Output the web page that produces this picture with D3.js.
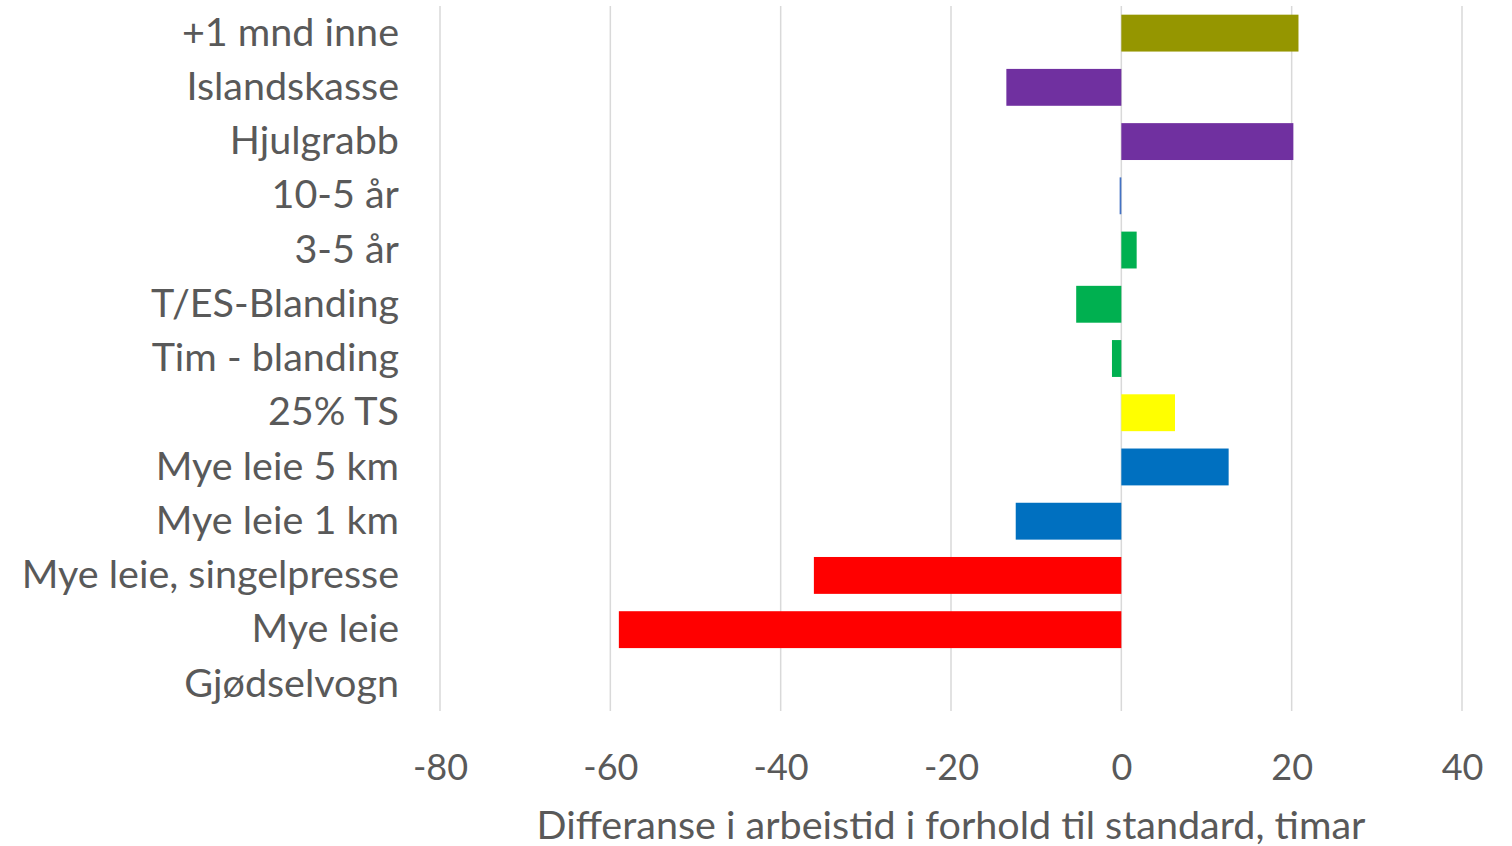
<!DOCTYPE html>
<html>
<head>
<meta charset="utf-8">
<script src="https://cdn.jsdelivr.net/npm/d3@7"></script>
<style>
body { margin: 0; background: #fff; }
svg text { font-family: Lato, "Open Sans", sans-serif; fill: #595959; }
</style>
</head>
<body>
<svg width="1512" height="846"></svg>
<script>
// categories top -> bottom
var categories = ["+1 mnd inne", "Islandskasse", "Hjulgrabb", "10-5 år", "3-5 år", "T/ES-Blanding",
  "Tim - blanding", "25% TS", "Mye leie 5 km", "Mye leie 1 km", "Mye leie, singelpresse", "Mye leie", "Gjødselvogn"];
var values = [20.8, -13.5, 20.2, -0.2, 1.8, -5.3, -1.1, 6.3, 12.6, -12.4, -36.1, -59.0, 0];
var colors = ["#959600", "#7030A0", "#7030A0", "#4472C4", "#00B050", "#00B050",
  "#00B050", "#FFFF00", "#0070C0", "#0070C0", "#FF0000", "#FF0000", "#FF0000"];
var ticks = [-80, -60, -40, -20, 0, 20, 40];
var axisTitle = "Differanse i arbeistid i forhold til standard, timar";

var margin = {top: 6, right: 50, bottom: 135, left: 440};
var width = 1512, height = 846;

var svg = d3.select("svg");

var x = d3.scaleLinear()
  .domain([-80, 40])
  .range([margin.left, 1462]);

var y = d3.scaleBand()
  .domain(categories)
  .range([margin.top, height - margin.bottom])
  .paddingInner(0.32)
  .paddingOuter(0.16);

// gridlines
svg.append("g")
  .selectAll("line")
  .data(ticks)
  .join("line")
  .attr("x1", d => x(d)).attr("x2", d => x(d))
  .attr("y1", margin.top).attr("y2", height - margin.bottom)
  .attr("stroke", "#d9d9d9")
  .attr("stroke-width", 1.5);

// bars
svg.append("g")
  .selectAll("rect")
  .data(values)
  .join("rect")
  .attr("x", d => x(Math.min(0, d)))
  .attr("width", d => Math.abs(x(d) - x(0)))
  .attr("y", (d, i) => y(categories[i]))
  .attr("height", y.bandwidth())
  .attr("fill", (d, i) => colors[i]);

// x axis labels
var xAxis = svg.append("g")
  .attr("transform", "translate(0," + (height - margin.bottom) + ")")
  .call(d3.axisBottom(x).tickValues(ticks).tickSize(0).tickPadding(43).tickFormat(d => String(d)));
xAxis.select(".domain").remove();
xAxis.selectAll("text").style("font-size", "36px").attr("fill", "#595959")
  .style("font-family", "Lato, 'Open Sans', sans-serif");

// y axis labels
var yAxis = svg.append("g")
  .attr("transform", "translate(" + margin.left + ",0)")
  .call(d3.axisLeft(y).tickSize(0).tickPadding(41));
yAxis.select(".domain").remove();
yAxis.selectAll("text").style("font-size", "39.5px").attr("fill", "#595959")
  .style("font-family", "Lato, 'Open Sans', sans-serif");

// axis title
svg.append("text")
  .attr("x", x(-20))
  .attr("y", 839)
  .attr("text-anchor", "middle")
  .style("font-size", "39.5px")
  .text(axisTitle);
</script>
</body>
</html>
